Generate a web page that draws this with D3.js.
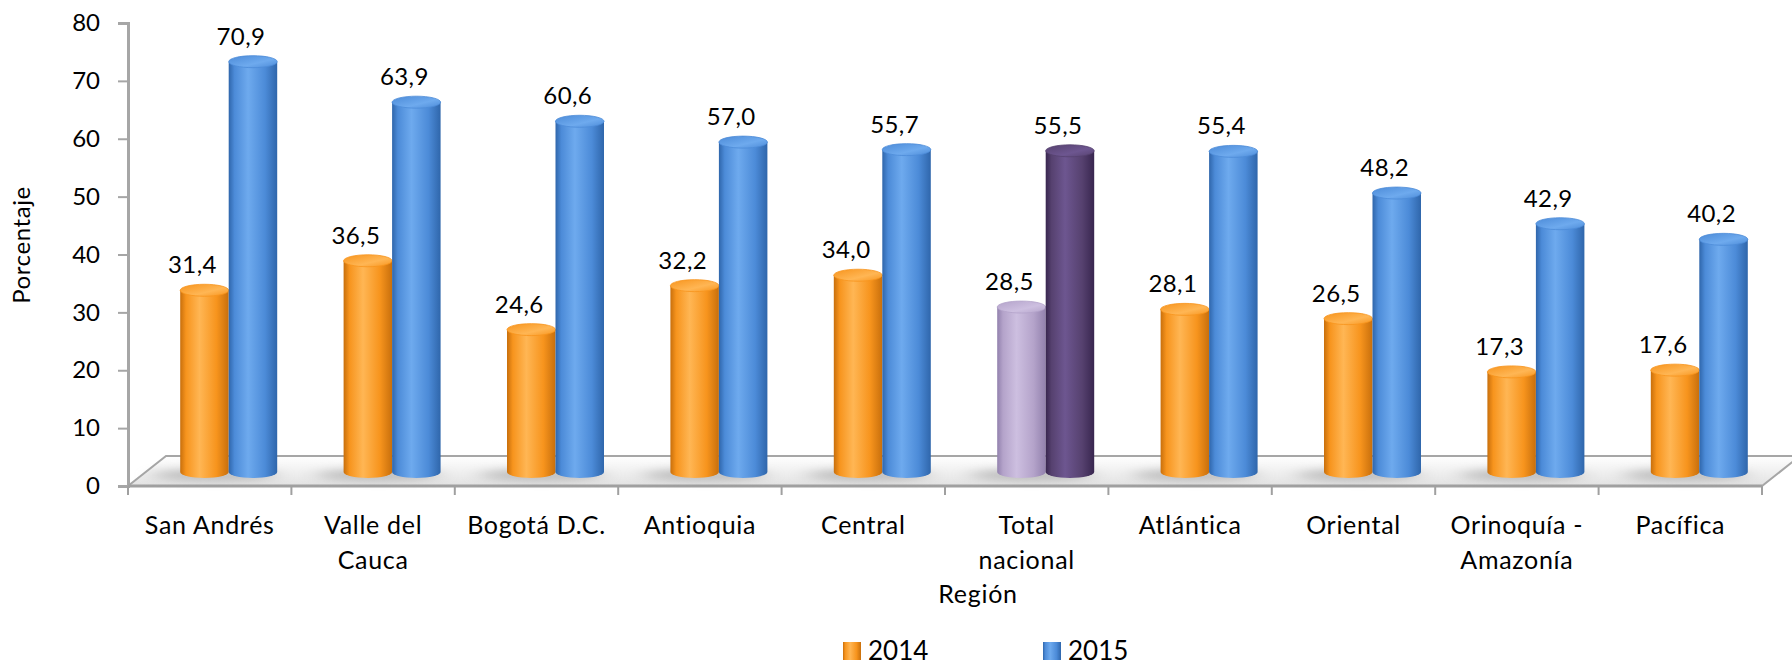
<!DOCTYPE html>
<html>
<head>
<meta charset="utf-8">
<script src="https://cdn.jsdelivr.net/npm/d3@7"></script>
<style>
  body { margin: 0; background: #fff; }
  text { font-family: Lato, "Open Sans", sans-serif; fill: #000; }
</style>
</head>
<body>
<svg id="chart" width="1792" height="665"></svg>
<script>
var categories = ["San Andrés", "Valle del Cauca", "Bogotá D.C.", "Antioquia", "Central",
  "Total nacional", "Atlántica", "Oriental", "Orinoquía - Amazonía", "Pacífica"];
var categoryLines = [["San Andrés"], ["Valle del", "Cauca"], ["Bogotá D.C."], ["Antioquia"], ["Central"],
  ["Total", "nacional"], ["Atlántica"], ["Oriental"], ["Orinoquía -", "Amazonía"], ["Pacífica"]];
var series = ["2014", "2015"];
var values2014 = [31.4, 36.5, 24.6, 32.2, 34.0, 28.5, 28.1, 26.5, 17.3, 17.6];
var values2015 = [70.9, 63.9, 60.6, 57.0, 55.7, 55.5, 55.4, 48.2, 42.9, 40.2];
var yTicks = [0, 10, 20, 30, 40, 50, 60, 70, 80];

var svg = d3.select("#chart");
var plotLeft = 128, plotRight = 1762, plotTop = 23, plotBase = 486;
var depthX = 38, depthY = 30;   // floor depth
var midX = 19, midY = 14;       // bars stand in the middle of the floor

var x = d3.scaleBand().domain(categories).range([plotLeft, plotRight]);
var y = d3.scaleLinear().domain([0, 80]).range([plotBase, plotTop]);
var sub = d3.scaleBand().domain(series).range([-48.5, 48.5]);

var locale = d3.formatLocale({decimal: ",", thousands: ".", grouping: [3], currency: ["", ""]});
var fmt = locale.format(".1f");

// colours: [dark edge, highlight, body]
var palette = {
  orange: ["#c86f0c", "#ffb654", "#f7941d"],
  blue:   ["#2f66ab", "#6eaaee", "#4c8bd8"],
  lilac:  ["#9281ad", "#cdbfe0", "#b4a3ca"],
  purple: ["#38264f", "#6d5690", "#56416f"]
};

var defs = svg.append("defs");
Object.keys(palette).forEach(function(k) {
  var c = palette[k];
  var g = defs.append("linearGradient").attr("id", "g-" + k).attr("x1", 0).attr("x2", 1).attr("y1", 0).attr("y2", 0);
  g.append("stop").attr("offset", "0%").attr("stop-color", c[0]);
  g.append("stop").attr("offset", "12%").attr("stop-color", c[2]);
  g.append("stop").attr("offset", "40%").attr("stop-color", c[1]);
  g.append("stop").attr("offset", "75%").attr("stop-color", c[2]);
  g.append("stop").attr("offset", "100%").attr("stop-color", c[0]);
  var t = defs.append("linearGradient").attr("id", "t-" + k).attr("x1", 0).attr("x2", 1).attr("y1", 0).attr("y2", 1);
  t.append("stop").attr("offset", "0%").attr("stop-color", c[2]);
  t.append("stop").attr("offset", "60%").attr("stop-color", c[1]);
  t.append("stop").attr("offset", "100%").attr("stop-color", c[2]);
});
var fl = defs.append("linearGradient").attr("id", "floor").attr("x1", 0).attr("x2", 0).attr("y1", 0).attr("y2", 1);
fl.append("stop").attr("offset", "0%").attr("stop-color", "#ffffff");
fl.append("stop").attr("offset", "100%").attr("stop-color", "#e2e2e2");
defs.append("filter").attr("id", "blur").attr("x", "-50%").attr("y", "-200%").attr("width", "200%").attr("height", "500%")
  .append("feGaussianBlur").attr("stdDeviation", "10 4");

// floor
svg.append("path")
  .attr("d", "M" + plotLeft + "," + plotBase + "L" + plotRight + "," + plotBase +
    "L" + (plotRight + depthX) + "," + (plotBase - depthY) +
    "L" + (plotLeft + depthX) + "," + (plotBase - depthY) + "Z")
  .attr("fill", "url(#floor)")
  .attr("stroke", "#a6a6a6")
  .attr("stroke-width", 2);

// y axis
var yAxis = svg.append("g").attr("transform", "translate(" + plotLeft + ",0)")
  .call(d3.axisLeft(y).tickValues(yTicks).tickSize(10).tickPadding(18).tickFormat(d3.format("d")));
yAxis.select(".domain").attr("stroke", "#a6a6a6").attr("stroke-width", 3);
yAxis.selectAll(".tick line").attr("stroke", "#a6a6a6").attr("stroke-width", 2);
yAxis.selectAll(".tick text").attr("font-size", 24).attr("font-family", "Lato").attr("fill", "#000");

// x axis line and boundary ticks
svg.append("line").attr("x1", plotLeft).attr("x2", plotRight).attr("y1", plotBase).attr("y2", plotBase)
  .attr("stroke", "#a0a0a0").attr("stroke-width", 3);
svg.selectAll(".xtick")
  .data(categories.map(function(c) { return x(c); }).concat([plotRight]))
  .enter().append("line")
    .attr("class", "xtick")
    .attr("x1", function(d) { return d; }).attr("x2", function(d) { return d; })
    .attr("y1", plotBase).attr("y2", plotBase + 9)
    .attr("stroke", "#a0a0a0").attr("stroke-width", 2);

// rows of bars
var rows = categories.map(function(c, i) {
  var total = c === "Total nacional";
  return [
    {cat: c, s: "2014", v: values2014[i], col: total ? "lilac" : "orange"},
    {cat: c, s: "2015", v: values2015[i], col: total ? "purple" : "blue"}
  ];
});

// soft shadows on the floor
svg.selectAll(".shadow")
  .data(categories)
  .enter().append("ellipse")
    .attr("class", "shadow")
    .attr("cx", function(c) { return x(c) + x.bandwidth() / 2 + midX - 14; })
    .attr("cy", y(0) - midY + 3)
    .attr("rx", 62).attr("ry", 6)
    .attr("fill", "#8c8c8c").attr("opacity", 0.5)
    .attr("filter", "url(#blur)");

var ry = 6;
var bars = svg.selectAll(".bar")
  .data(d3.merge(rows))
  .enter().append("g")
    .attr("class", "bar")
    .attr("transform", function(d) {
      return "translate(" + (x(d.cat) + x.bandwidth() / 2 + midX + sub(d.s)) + "," + (-midY) + ")";
    });

bars.append("path")
  .attr("d", function(d) {
    var w = sub.bandwidth(), y0 = y(0), y1 = y(d.v);
    return "M0," + y1 + "L0," + y0 + "A" + (w / 2) + "," + ry + " 0 0 0 " + w + "," + y0 +
      "L" + w + "," + y1 + "Z";
  })
  .attr("fill", function(d) { return "url(#g-" + d.col + ")"; });

bars.append("ellipse")
  .attr("cx", sub.bandwidth() / 2)
  .attr("cy", function(d) { return y(d.v); })
  .attr("rx", sub.bandwidth() / 2).attr("ry", ry)
  .attr("fill", function(d) { return "url(#t-" + d.col + ")"; })
  .attr("stroke", function(d) { return palette[d.col][2]; })
  .attr("stroke-width", 0.8);

// value labels
bars.append("text")
  .attr("x", sub.bandwidth() / 2 - 12)
  .attr("y", function(d) { return y(d.v) - 17; })
  .attr("text-anchor", "middle")
  .attr("font-size", 24)
  .attr("letter-spacing", 0.4)
  .text(function(d) { return fmt(d.v); });

// category labels
var cl = svg.selectAll(".cat")
  .data(categories)
  .enter().append("text")
    .attr("class", "cat")
    .attr("text-anchor", "middle")
    .attr("font-size", 25)
    .attr("letter-spacing", 0.7);
cl.selectAll("tspan")
  .data(function(c, i) { return categoryLines[i].map(function(t) { return {t: t, c: c}; }); })
  .enter().append("tspan")
    .attr("x", function(d) { return x(d.c) + x.bandwidth() / 2; })
    .attr("y", function(d, i) { return 534 + i * 35; })
    .text(function(d) { return d.t; });

// axis titles
svg.append("text").attr("x", 978).attr("y", 603).attr("text-anchor", "middle")
  .attr("font-size", 25).attr("letter-spacing", 0.7).text("Región");
svg.append("text").attr("transform", "translate(30,245) rotate(-90)").attr("text-anchor", "middle")
  .attr("font-size", 24).attr("letter-spacing", 0.6).text("Porcentaje");

// legend
var legendCols = {"2014": "orange", "2015": "blue"};
var lg = svg.selectAll(".legend")
  .data(series)
  .enter().append("g")
    .attr("class", "legend")
    .attr("transform", function(d, i) { return "translate(" + (843 + i * 200) + ",642)"; });
lg.append("rect").attr("width", 18).attr("height", 18)
  .attr("fill", function(d) { return "url(#g-" + legendCols[d] + ")"; });
lg.append("text").attr("x", 25).attr("y", 18).attr("font-size", 26).text(function(d) { return d; });
</script>
</body>
</html>
